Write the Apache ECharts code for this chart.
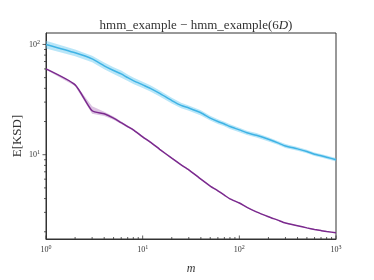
<!DOCTYPE html>
<html>
<head>
<meta charset="utf-8">
<script src="https://cdn.jsdelivr.net/npm/echarts@6/dist/echarts.min.js"></script>
<style>
  html, body { margin: 0; padding: 0; background: #fff; }
  #chart { width: 374px; height: 280px; }
</style>
</head>
<body>
<div id="chart"></div>
<script>
// sample sizes m
const mValues = [1, 2, 3, 4, 5, 6, 7, 8, 10, 12, 15, 20, 25, 30, 40, 50, 60, 70, 80, 100, 120, 150, 200, 250, 300, 400, 500, 600, 700, 800, 1000];

// hmm_example - hmm_example(6D) (light blue)
const blueMean  = [100, 84, 74, 64, 58, 54, 50, 47, 43, 40, 36, 31, 28, 26.5, 24, 21.5, 20, 19, 18, 16.8, 15.8, 15, 13.8, 12.8, 12, 11.3, 10.7, 10.1, 9.8, 9.5, 9.0];
const blueLower = [92, 78, 69, 59.5, 54, 50, 46.5, 43.8, 40.2, 37.4, 33.8, 29.2, 26.4, 25, 22.7, 20.4, 19, 18.1, 17.1, 16, 15.1, 14.3, 13.2, 12.3, 11.5, 10.85, 10.3, 9.72, 9.43, 9.15, 8.68];
const blueUpper = [108, 90, 79, 68.5, 62, 58, 53.5, 50.2, 45.8, 42.6, 38.2, 32.8, 29.6, 28, 25.3, 22.6, 21, 19.9, 18.9, 17.6, 16.5, 15.7, 14.4, 13.3, 12.5, 11.75, 11.1, 10.48, 10.17, 9.85, 9.32];

// second curve (purple)
const purpleMean  = [60, 43, 25, 23.5, 21.5, 19.5, 18, 16.8, 14.5, 13, 11.2, 9.3, 8.1, 7.3, 6.0, 5.2, 4.7, 4.3, 3.97, 3.65, 3.33, 3.03, 2.74, 2.55, 2.4, 2.27, 2.17, 2.1, 2.05, 2.01, 1.96];
const purpleLower = [59, 42, 23.5, 22.5, 20.8, 19, 17.6, 16.5, 14.2, 12.8, 11, 9.15, 8, 7.2, 5.93, 5.15, 4.65, 4.26, 3.93, 3.61, 3.3, 3.0, 2.72, 2.53, 2.38, 2.25, 2.15, 2.08, 2.03, 1.99, 1.94];
const purpleUpper = [61, 44, 27.5, 24.5, 22.2, 20, 18.4, 17.1, 14.8, 13.2, 11.4, 9.45, 8.2, 7.4, 6.07, 5.25, 4.75, 4.34, 4.01, 3.69, 3.36, 3.06, 2.76, 2.57, 2.42, 2.29, 2.19, 2.12, 2.07, 2.03, 1.98];

// ticks
const xMajor = [1, 10, 100, 1000];
const xMinor = [2, 3, 4, 5, 6, 7, 8, 9, 20, 30, 40, 50, 60, 70, 80, 90, 200, 300, 400, 500, 600, 700, 800, 900];
const yMajor = [10, 100];
const yMinor = [2, 3, 4, 5, 6, 7, 8, 9, 20, 30, 40, 50, 60, 70, 80, 90];

const X_MIN = 1, X_MAX = 1000, Y_MIN = 1.72, Y_MAX = 127;
const FONT = '"Liberation Serif", "DejaVu Serif", serif';
const chart = echarts.init(document.getElementById('chart'));

// 10^n 标签
const powLabel = v => '{b|10}{s|' + Math.round(Math.log10(v)) + '}';
const labelRich = {
  b: { fontSize: 8, fontFamily: FONT, color: '#333' },
  s: { fontSize: 6, fontFamily: FONT, color: '#333', padding: [0, 0, 5, 0] }
};

const zip = (xs, ys) => xs.map((x, i) => [x, ys[i]]);

// 置信带 (custom polygon)
const band = (lower, upper, color) => ({
  type: 'custom',
  clip: true,
  silent: true,
  data: [[mValues[0], upper[0]]],
  renderItem: (params, api) => {
    const pts = mValues.map((x, i) => api.coord([x, upper[i]]))
      .concat(mValues.map((x, i) => api.coord([x, lower[i]])).reverse());
    return { type: 'polygon', shape: { points: pts }, style: { fill: color } };
  }
});

// 刻度线：x 轴朝内，y 轴朝外
const tickSeries = {
  type: 'custom',
  clip: false,
  silent: true,
  data: [[X_MIN, Y_MIN]],
  z: 10,
  renderItem: (params, api) => {
    const children = [];
    const stroke = { stroke: '#333', lineWidth: 0.8 };
    const xTick = (v, len) => {
      const p = api.coord([v, Y_MIN]);
      children.push({ type: 'line', shape: { x1: p[0], y1: p[1], x2: p[0], y2: p[1] - len }, style: stroke });
    };
    const yTick = (v, len) => {
      const p = api.coord([X_MIN, v]);
      children.push({ type: 'line', shape: { x1: p[0], y1: p[1], x2: p[0] - len, y2: p[1] }, style: stroke });
    };
    xMajor.forEach(v => xTick(v, 3.5));
    xMinor.forEach(v => xTick(v, 2));
    yMajor.forEach(v => yTick(v, 3.5));
    yMinor.forEach(v => yTick(v, 2));
    return { type: 'group', children };
  }
};

const option = {
  animation: false,
  backgroundColor: '#fff',
  title: {
    text: 'hmm_example − hmm_example(6{i|D})',
    left: 191,
    textAlign: 'center',
    top: 14,
    textStyle: {
      fontFamily: FONT, fontSize: 13, fontWeight: 'normal', color: '#333',
      rich: { i: { fontFamily: FONT, fontSize: 13, fontStyle: 'italic', color: '#333' } }
    }
  },
  grid: { left: 46, right: 38, top: 33, bottom: 32, show: true, borderColor: '#333', borderWidth: 1, backgroundColor: 'transparent' },
  xAxis: {
    type: 'log', logBase: 10, min: X_MIN, max: X_MAX,
    name: 'm', nameLocation: 'middle', nameGap: 24, nameMoveOverlap: false,
    nameTextStyle: { fontFamily: FONT, fontSize: 12, fontStyle: 'italic', color: '#333' },
    axisLine: { show: true, lineStyle: { color: '#333', width: 1 } },
    axisTick: { show: false },
    axisLabel: { customValues: xMajor, formatter: powLabel, rich: labelRich, margin: 5 },
    splitLine: { show: false }
  },
  yAxis: {
    type: 'log', logBase: 10, min: Y_MIN, max: Y_MAX,
    name: 'E[KSD]', nameLocation: 'middle', nameGap: 22, nameRotate: 90, nameMoveOverlap: false,
    nameTextStyle: { fontFamily: FONT, fontSize: 13, color: '#333' },
    axisLine: { show: true, lineStyle: { color: '#333', width: 1 } },
    axisTick: { show: false },
    axisLabel: { customValues: yMajor, formatter: powLabel, rich: labelRich, margin: 6 },
    splitLine: { show: false }
  },
  series: [
    band(blueLower, blueUpper, 'rgba(100, 200, 240, 0.45)'),
    band(purpleLower, purpleUpper, 'rgba(140, 60, 160, 0.3)'),
    {
      name: 'blue', type: 'line', data: zip(mValues, blueMean), smooth: 0.2,
      showSymbol: false, lineStyle: { color: '#3fb3e5', width: 1.5 }, z: 5
    },
    {
      name: 'purple', type: 'line', data: zip(mValues, purpleMean), smooth: 0.2,
      showSymbol: false, lineStyle: { color: '#7b2a8e', width: 1.5 }, z: 5
    },
    tickSeries
  ]
};

chart.setOption(option);
</script>
</body>
</html>
